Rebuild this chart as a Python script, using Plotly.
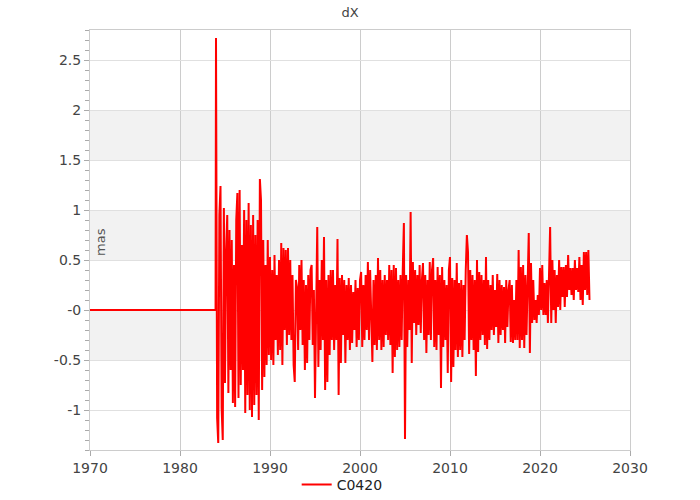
import plotly.graph_objects as go

# ---- data ----
series_name = "C0420"
flat_epochs = [1970.0, 1983.95]
flat_values = [0.0, 0.0]
first_epoch = 1984.0
epoch_step = 0.125  # sampling interval of the series (years)

dx_values = [
    # 1984
    2.72, -1.08, -1.33, 0.95, 1.24, -0.98, -1.30, 1.02,
    # 1985
    -0.73, 0.60, 0.95, -0.83, 0.80, -0.60, 0.70, -0.93,
    # 1986
    0.45, -0.97, 0.90, 1.17, -0.88, 1.20, -0.75, 0.65,
    # 1987
    -0.60, 1.00, -1.03, 0.90, -0.85, 1.07, -1.00, 0.85,
    # 1988
    -1.07, 0.95, -0.95, 0.75, -0.85, 0.90, -1.10, 1.31,
    # 1989
    1.10, -0.80, 0.70, -0.67, 0.45, -0.55, 0.70, -0.45,
    # 1990
    0.53, -0.50, 0.40, -0.55, 0.55, -0.30, 0.35, -0.45,
    # 1991
    0.50, -0.40, 0.67, -0.55, 0.62, -0.20, 0.60, -0.35,
    # 1992
    0.62, -0.25, 0.50, -0.30, 0.35, -0.55, -0.72, 0.30,
    # 1993
    0.23, -0.40, 0.45, -0.20, 0.50, -0.35, 0.30, -0.60,
    # 1994
    0.25, -0.53, 0.35, -0.30, 0.40, 0.45, -0.35, 0.20,
    # 1995
    -0.88, 0.30, 0.83, -0.57, 0.30, -0.40, 0.50, -0.30,
    # 1996
    0.73, -0.80, 0.30, -0.72, 0.35, -0.45, 0.40, -0.30,
    # 1997
    0.40, -0.40, 0.25, -0.30, 0.71, -0.85, 0.32, -0.53,
    # 1998
    0.35, -0.25, 0.30, -0.53, 0.25, -0.30, 0.32, -0.40,
    # 1999
    0.25, -0.33, 0.18, -0.20, 0.30, -0.37, 0.22, -0.30,
    # 2000
    0.30, 0.38, -0.37, 0.25, -0.30, 0.35, -0.20, 0.48,
    # 2001
    -0.30, 0.40, -0.25, -0.52, 0.30, -0.35, 0.35, -0.40,
    # 2002
    0.52, -0.30, 0.40, -0.40, 0.30, -0.37, 0.35, -0.25,
    # 2003
    0.30, -0.30, 0.45, -0.35, 0.40, -0.63, 0.45, -0.47,
    # 2004
    0.42, -0.40, 0.30, -0.37, 0.35, -0.30, 0.40, 0.87,
    # 2005
    -1.29, 0.35, -0.37, 0.30, -0.20, 0.98, -0.53, 0.48,
    # 2006
    -0.13, 0.40, -0.25, 0.35, -0.15, 0.45, -0.23, 0.30,
    # 2007
    0.47, -0.30, 0.35, -0.43, 0.30, -0.25, 0.48, -0.30,
    # 2008
    0.40, 0.52, -0.37, 0.30, -0.40, 0.43, -0.25, 0.35,
    # 2009
    -0.78, 0.43, -0.37, 0.30, -0.30, 0.25, -0.63, 0.40,
    # 2010
    0.53, -0.72, 0.32, -0.57, 0.30, -0.40, 0.47, -0.47,
    # 2011
    0.27, -0.40, 0.30, -0.47, 0.25, -0.30, 0.40, 0.75,
    # 2012
    0.58, -0.44, 0.40, -0.30, 0.35, -0.40, 0.30, -0.66,
    # 2013
    0.50, -0.42, 0.38, -0.30, 0.35, -0.25, 0.30, -0.35,
    # 2014
    0.53, -0.39, 0.30, -0.30, 0.25, -0.20, 0.35, -0.25,
    # 2015
    0.20, -0.17, 0.36, -0.33, 0.30, -0.25, 0.25, -0.20,
    # 2016
    0.23, -0.33, 0.30, -0.17, 0.20, 0.30, -0.32, 0.25,
    # 2017
    -0.33, 0.10, -0.30, 0.30, -0.30, 0.60, -0.38, 0.43,
    # 2018
    -0.30, 0.45, -0.38, 0.35, -0.25, 0.40, 0.77, -0.43,
    # 2019
    0.47, -0.13, 0.30, -0.10, 0.10, -0.13, 0.15, -0.05,
    # 2020
    0.42, 0.00, 0.45, -0.05, 0.27, -0.05, 0.30, -0.13,
    # 2021
    0.30, 0.83, -0.13, 0.50, 0.00, 0.40, -0.13, 0.35,
    # 2022
    0.03, 0.50, 0.00, 0.43, 0.13, 0.43, 0.03, 0.45,
    # 2023
    0.13, 0.55, 0.20, 0.42, 0.15, 0.42, 0.10, 0.50,
    # 2024
    0.20, 0.42, 0.18, 0.53, 0.10, 0.45, 0.05, 0.58,
    # 2025
    0.20, 0.58, 0.15, 0.60, 0.10,
]

y_tick_values = [-1, -0.5, 0, 0.5, 1, 1.5, 2, 2.5]
y_tick_labels = ["-1", "-0.5", "-0", "0.5", "1", "1.5", "2", "2.5"]
x_tick_values = [1970, 1980, 1990, 2000, 2010, 2020, 2030]
band_ranges = [(-0.5, 0.0), (0.5, 1.0), (1.5, 2.0)]

# ---- build ----
epochs = flat_epochs + [first_epoch + i * epoch_step for i in range(len(dx_values))]
values = flat_values + dx_values

FONT = "DejaVu Sans, Verdana, sans-serif"
fig = go.Figure()
fig.add_trace(go.Scatter(
    x=epochs, y=values, mode="lines", name=series_name,
    line=dict(color="#ff0000", width=2),
))

for lo, hi in band_ranges:
    fig.add_shape(type="rect", xref="paper", yref="y", x0=0, x1=1, y0=lo, y1=hi,
                  fillcolor="#f2f2f2", line=dict(width=0), layer="below")

fig.add_annotation(text="mas", xref="paper", yref="y", x=0.0185, y=0.68,
                   xanchor="center", yanchor="middle",
                   textangle=-90, showarrow=False,
                   font=dict(family=FONT, size=13, color="#555"))

fig.update_layout(
    width=700, height=500,
    margin=dict(l=90, r=70, t=30, b=50, autoexpand=False),
    paper_bgcolor="white", plot_bgcolor="white",
    font=dict(family=FONT, size=13, color="#444"),
    title=dict(text="dX", x=0.5, xanchor="center", y=0.976, yanchor="middle",
               font=dict(family=FONT, size=13, color="#444")),
    showlegend=True,
    legend=dict(orientation="h", x=0.467, xanchor="center",
                yref="container", y=0.03, yanchor="middle",
                font=dict(family=FONT, size=14, color="#222"),
                itemwidth=30, bgcolor="rgba(0,0,0,0)"),
    xaxis=dict(range=[1970, 2030], tickvals=x_tick_values, showgrid=True,
               gridcolor="#cccccc", gridwidth=1, zeroline=False,
               showline=True, linecolor="#cccccc", mirror=True,
               ticks="outside", ticklen=5, tickcolor="#aaaaaa",
               tickfont=dict(size=14, color="#444")),
    yaxis=dict(range=[-1.4, 2.8], tickvals=y_tick_values, ticktext=y_tick_labels,
               showgrid=True, gridcolor="#e0e0e0", gridwidth=1, zeroline=False,
               showline=True, linecolor="#cccccc", mirror=True,
               ticks="outside", ticklen=5, tickcolor="#aaaaaa",
               minor=dict(dtick=0.1, ticks="outside", ticklen=4, tickcolor="#aaaaaa",
                          showgrid=False),
               tickfont=dict(size=14, color="#444")),
)

fig.write_html(
    "out.html",
    config={"displayModeBar": False},
    post_script="document.documentElement.style.margin='0';"
                "document.body.style.margin='0';"
                "document.body.style.overflow='hidden';",
)
